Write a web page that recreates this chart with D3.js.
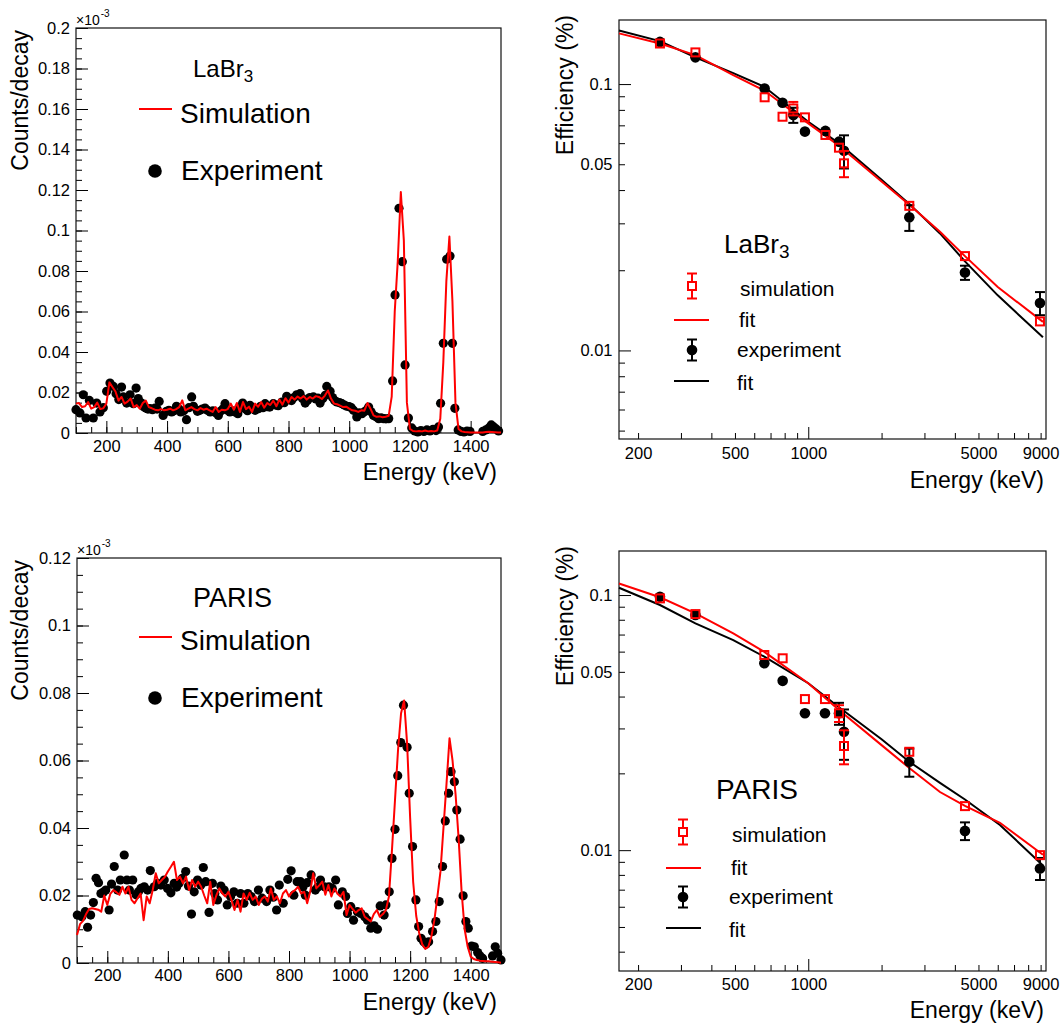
<!DOCTYPE html>
<html><head><meta charset="utf-8">
<script src="https://cdn.jsdelivr.net/npm/d3@7"></script>
<style>body{margin:0;background:#fff;} svg{display:block;}</style>
</head><body>
<script>
// ---------------- DATA ----------------
// Spectra: simulation histogram (bin centres from 100 keV, 10 keV step), counts/decay in units of 1e-3
const simBinStart = 100, simBinStep = 10;
const labrSim = [
 .0145,.0148,.0128,.0132,.0153,.0120,.0128,.0150,.0118,.0122,
 .0145,.0250,.0227,.0205,.0160,.0178,.0145,.0155,.0170,.0128,
 .0138,.0120,.0148,.0160,.0128,.0122,.0115,.0112,.0118,.0112,
 .0115,.0120,.0112,.0118,.0128,.0161,.0112,.0120,.0128,.0118,
 .0112,.0123,.0115,.0120,.0112,.0104,.0128,.0104,.0115,.0112,
 .0118,.0145,.0115,.0148,.0104,.0153,.0118,.0130,.0104,.0145,
 .0130,.0153,.0125,.0148,.0138,.0160,.0132,.0165,.0140,.0172,
 .0150,.0178,.0165,.0180,.0170,.0182,.0165,.0178,.0170,.0182,
 .0178,.0168,.0185,.0210,.0170,.0145,.0142,.0135,.0128,.0130,
 .0120,.0112,.0110,.0104,.0112,.0110,.0148,.0120,.0087,.0080,
 .0082,.0078,.0080,.0085,.0180,.0600,.0850,.1190,.0950,.0150,
 .0020,.0010,.0008,.0010,.0008,.0012,.0008,.0010,.0008,.0012,
 .0070,.0350,.0750,.0970,.0650,.0150,.0020,.0008,.0005,.0004,
 .0003,.0002,.0002,.0002,.0003,.0005,.0006,.0005,.0004,.0003,
 .0002];
const parisSim = [
 .0083,.0115,.0125,.0145,.0160,.0162,.0160,.0158,.0152,.0200,
 .0172,.0205,.0216,.0210,.0202,.0226,.0206,.0226,.0187,.0177,
 .0192,.0206,.0127,.0197,.0177,.0216,.0266,.0236,.0246,.0255,
 .0271,.0285,.0300,.0246,.0256,.0236,.0256,.0216,.0246,.0226,
 .0241,.0226,.0200,.0177,.0241,.0172,.0200,.0221,.0206,.0197,
 .0211,.0187,.0157,.0187,.0152,.0206,.0187,.0208,.0187,.0197,
 .0172,.0190,.0197,.0182,.0221,.0187,.0197,.0177,.0206,.0216,
 .0197,.0210,.0216,.0226,.0206,.0211,.0177,.0211,.0266,.0221,
 .0230,.0241,.0202,.0231,.0197,.0221,.0205,.0197,.0211,.0142,
 .0172,.0160,.0149,.0157,.0162,.0137,.0130,.0123,.0145,.0157,
 .0137,.0145,.0157,.0197,.0335,.0483,.0631,.0740,.0778,.0650,
 .0430,.0240,.0140,.0088,.0055,.0042,.0048,.0078,.0127,.0197,
 .0270,.0400,.0530,.0666,.0600,.0500,.0370,.0210,.0100,.0048,
 .0019,.0012,.0009,.0007,.0006,.0005,.0005,.0004,.0003,.0002,
 .0001];
// Experiment points: [energy keV, counts/decay (1e-3)]
const labrExp = [
[100,.0115],[113,.0099],[124,.0189],[133,.0074],[144,.0161],[157,.0074],[168,.0148],[179,.0104],[190,.0125],[201,.0206],
[212,.0247],[223,.0230],[232,.0194],[241,.0165],[250,.0227],[256,.0178],[267,.0148],[278,.0189],[289,.0145],[298,.0222],
[305,.0170],[316,.0148],[323,.0130],[330,.0123],[337,.0118],[344,.0120],[352,.0115],[360,.0123],[367,.0118],[374,.0156],
[387,.0087],[398,.0107],[406,.0112],[415,.0104],[423,.0110],[431,.0132],[438,.0120],[445,.0104],[455,.0110],[464,.0066],
[472,.0125],[481,.0178],[487,.0132],[500,.0107],[508,.0112],[516,.0118],[525,.0123],[533,.0112],[542,.0104],[551,.0110],
[560,.0100],[569,.0087],[578,.0110],[585,.0120],[591,.0145],[599,.0112],[607,.0104],[616,.0110],[624,.0104],[633,.0095],
[641,.0128],[649,.0148],[657,.0120],[665,.0110],[673,.0137],[681,.0125],[690,.0112],[701,.0120],[708,.0132],[716,.0125],
[723,.0145],[730,.0130],[738,.0128],[750,.0145],[758,.0138],[766,.0135],[778,.0153],[786,.0150],[794,.0181],[803,.0165],
[810,.0160],[818,.0175],[827,.0189],[838,.0194],[846,.0170],[855,.0148],[863,.0162],[870,.0175],[882,.0178],[890,.0168],
[897,.0172],[904,.0148],[913,.0170],[921,.0186],[926,.0230],[937,.0206],[945,.0175],[952,.0160],[959,.0153],[968,.0150],
[976,.0145],[984,.0138],[992,.0132],[1000,.0130],[1007,.0125],[1014,.0112],[1025,.0079],[1033,.0100],[1042,.0095],[1050,.0105],
[1057,.0112],[1064,.0128],[1072,.0105],[1080,.0087],[1088,.0080],[1097,.0071],[1105,.0075],[1113,.0071],[1121,.0070],[1130,.0071],
[1143,.0257],[1151,.0682],[1164,.1110],[1175,.0846],[1184,.0336],[1195,.0074],[1206,.0025],[1216,.0010],[1226,.0005],[1236,.0012],
[1246,.0008],[1256,.0015],[1266,.0010],[1276,.0018],[1286,.0012],[1294,.0030],[1301,.0147],[1310,.0443],[1321,.0858],[1332,.0874],
[1340,.0443],[1348,.0122],[1359,.0015],[1368,.0008],[1378,.0005],[1388,.0010],[1398,.0008],[1440,.0008],[1450,.0015],[1460,.0025],
[1468,.0040],[1476,.0030],[1484,.0020],[1492,.0010]];
const parisExp = [
[101,.0142],[116,.0137],[127,.0152],[135,.0106],[145,.0142],[154,.0179],[163,.0251],[171,.0238],[179,.0206],[187,.0210],
[195,.0216],[206,.0157],[214,.0234],[223,.0286],[234,.0216],[243,.0246],[256,.0320],[265,.0246],[273,.0216],[284,.0246],
[295,.0202],[303,.0211],[311,.0221],[322,.0226],[333,.0216],[342,.0274],[355,.0226],[366,.0236],[377,.0231],[388,.0246],
[399,.0221],[410,.0208],[421,.0236],[429,.0225],[437,.0236],[448,.0251],[459,.0271],[468,.0228],[478,.0145],[487,.0211],
[498,.0246],[509,.0231],[517,.0283],[525,.0241],[536,.0150],[547,.0236],[555,.0206],[564,.0187],[575,.0228],[586,.0216],
[596,.0172],[607,.0197],[618,.0211],[629,.0177],[640,.0206],[651,.0177],[664,.0206],[675,.0197],[686,.0182],[699,.0216],
[711,.0192],[726,.0182],[737,.0216],[748,.0195],[759,.0157],[768,.0231],[781,.0177],[796,.0248],[807,.0273],[816,.0201],
[827,.0241],[838,.0241],[846,.0225],[854,.0201],[860,.0238],[873,.0261],[887,.0216],[895,.0225],[904,.0246],[917,.0226],
[932,.0226],[943,.0221],[954,.0246],[963,.0172],[976,.0211],[987,.0197],[993,.0147],[1004,.0167],[1013,.0127],[1026,.0152],
[1037,.0147],[1050,.0137],[1059,.0127],[1070,.0103],[1081,.0110],[1092,.0100],[1101,.0169],[1114,.0142],[1120,.0172],[1131,.0211],
[1140,.0310],[1150,.0396],[1159,.0555],[1169,.0653],[1178,.0764],[1190,.0639],[1197,.0503],[1208,.0345],[1219,.0187],[1228,.0108],
[1236,.0073],[1245,.0063],[1253,.0056],[1261,.0063],[1274,.0093],[1285,.0123],[1296,.0182],[1307,.0286],[1316,.0421],[1327,.0503],
[1335,.0567],[1346,.0537],[1354,.0453],[1365,.0367],[1375,.0199],[1384,.0123],[1392,.0103],[1403,.0050],[1412,.0048],[1423,.0031],
[1431,.0021],[1439,.0014],[1472,.0021],[1481,.0048],[1489,.0029],[1500,.0009]];

// Efficiency (%) vs energy (keV)
const labrEffE      = [246, 344, 662, 784, 868, 969, 1176, 1337, 1402, 2600, 4401, 8945];
const labrExpEff    = [0.144, 0.126, 0.0963, 0.0851, 0.0765, 0.0663, 0.0667, 0.0608, 0.0562, 0.0316, 0.0196, 0.01506];
const labrExpErr    = [0.002, 0.002, 0.0015, 0.0012, 0.005, 0.001, 0.001, 0.001, 0.008, 0.0035, 0.0012, 0.0015];
const labrSimEff    = [0.142, 0.1315, 0.0892, 0.0754, 0.081, 0.075, 0.0644, 0.0577, 0.0504, 0.0349, 0.0226, 0.01285];
const labrSimErr    = [0.001, 0.001, 0.001, 0.001, 0.0047, 0.001, 0.001, 0.001, 0.0057, 0.0005, 0.0003, 0.0002];
const labrFitE      = [167, 246, 344, 492, 662, 1000, 1337, 2000, 2600, 3475, 4401, 6000, 9200];
const labrExpFit    = [0.159, 0.145, 0.126, 0.110, 0.0975, 0.0722, 0.0599, 0.0437, 0.0355, 0.0275, 0.0216, 0.0161, 0.0112];
const labrSimFit    = [0.155, 0.142, 0.1285, 0.108, 0.0944, 0.0712, 0.0587, 0.0431, 0.0352, 0.0279, 0.0226, 0.0173, 0.0128];

const parisEffE     = [246, 344, 660, 785, 969, 1171, 1337, 1402, 2600, 4401, 8945];
const parisExpEff   = [0.0985, 0.0835, 0.054, 0.0461, 0.0344, 0.0344, 0.0344, 0.0291, 0.0222, 0.0119, 0.00848];
const parisExpErr   = [0.001, 0.001, 0.001, 0.001, 0.001, 0.001, 0.0034, 0.0065, 0.0028, 0.00095, 0.00084];
const parisSimEff   = [0.097, 0.0842, 0.0582, 0.0565, 0.0391, 0.0391, 0.0344, 0.0256, 0.0243, 0.01488, 0.00956];
const parisSimErr   = [0.001, 0.001, 0.001, 0.001, 0.001, 0.001, 0.0026, 0.0039, 0.0005, 0.0003, 0.0002];
const parisFitE     = [167, 246, 344, 492, 660, 1000, 1337, 2000, 2600, 3475, 4401, 6127, 9200];
const parisExpFit   = [0.1068, 0.0914, 0.0774, 0.0666, 0.0573, 0.0451, 0.0363, 0.0272, 0.0222, 0.01835, 0.0158, 0.01256, 0.0087];
const parisSimFit   = [0.111, 0.098, 0.0848, 0.0708, 0.0599, 0.0451, 0.0354, 0.0258, 0.021, 0.0169, 0.0149, 0.0128, 0.0096];

// Tick values
const spectrumMajorX = [200, 400, 600, 800, 1000, 1200, 1400];
const effLabelX = [200, 500, 1000, 5000, 9000];
const effMajorX = [1000];
const effMinorX = [200,300,400,500,600,700,800,900,2000,3000,4000,5000,6000,7000,8000,9000];
const effLabelY = [0.01, 0.05, 0.1];
const effMajorY = [0.01, 0.1];
const effMinorY = [0.004,0.005,0.006,0.007,0.008,0.009,0.02,0.03,0.04,0.05,0.06,0.07,0.08,0.09];

// ---------------- DRAWING ----------------
const FONT = "'Liberation Sans', Arial, Helvetica, sans-serif";
const RED = '#ff0000';
const TICKFONT = 16.5;
const svg = d3.select('body').append('svg').attr('width', 1062).attr('height', 1026);
svg.append('rect').attr('width', 1062).attr('height', 1026).attr('fill', '#fff');

function fixAxis(sel, size) {
  sel.attr('font-family', FONT).attr('font-size', size);
  sel.select('.domain').remove();
  sel.selectAll('.tick line').attr('stroke', '#000').attr('stroke-width', 1);
  sel.selectAll('.tick text').attr('fill', '#000');
}

function frame(g, l, t, r, b) {
  g.append('rect').attr('x', l).attr('y', t).attr('width', r - l).attr('height', b - t)
    .attr('fill', 'none').attr('stroke', '#111').attr('stroke-width', 1.2);
}

function txt(g, x, y, s, size, anchor) {
  return g.append('text').attr('x', x).attr('y', y).attr('font-family', FONT)
    .attr('font-size', size).attr('text-anchor', anchor || 'start').attr('fill', '#000').text(s);
}

function spectrumPanel(p) {
  const g = svg.append('g');
  const x = d3.scaleLinear().domain([100, 1500]).range([p.l, p.r]);
  const y = d3.scaleLinear().domain([0, p.ymax]).range([p.b, p.t]);
  const nMaj = Math.round(p.ymax / 0.02), nMin = Math.round(p.ymax / 0.005);
  const yMaj = d3.range(nMaj + 1).map(i => +(i * 0.02).toFixed(3));
  const yMin = d3.range(nMin + 1).map(i => +(i * 0.005).toFixed(4));
  const xMin = d3.range(100, 1501, 50);

  g.append('g').attr('transform', `translate(0,${p.b})`)
    .call(d3.axisBottom(x).tickValues(xMin).tickSize(-6).tickFormat(''))
    .call(s => fixAxis(s, TICKFONT));
  g.append('g').attr('transform', `translate(0,${p.b})`)
    .call(d3.axisBottom(x).tickValues(spectrumMajorX).tickSize(-12).tickPadding(p.xPad).tickFormat(d3.format('d')))
    .call(s => fixAxis(s, TICKFONT));
  g.append('g').attr('transform', `translate(${p.l},0)`)
    .call(d3.axisLeft(y).tickValues(yMin).tickSize(-6).tickFormat(''))
    .call(s => fixAxis(s, TICKFONT));
  g.append('g').attr('transform', `translate(${p.l},0)`)
    .call(d3.axisLeft(y).tickValues(yMaj).tickSize(-12).tickPadding(6).tickFormat(d => d === 0 ? '0' : String(d)))
    .call(s => fixAxis(s, TICKFONT));
  frame(g, p.l, p.t, p.r, p.b);

  // experiment points
  g.append('g').selectAll('circle').data(p.exp).join('circle')
    .attr('cx', d => x(d[0])).attr('cy', d => y(d[1])).attr('r', 4.6).attr('fill', '#000');
  // simulation line
  const line = d3.line().x((v, i) => x(simBinStart + i * simBinStep)).y(v => y(v));
  g.append('path').datum(p.sim).attr('d', line).attr('fill', 'none')
    .attr('stroke', RED).attr('stroke-width', 2).attr('stroke-linejoin', 'round');

  // titles
  txt(g, 0, 0, 'Counts/decay', 23, 'end').attr('transform', `translate(28,${p.t + 2}) rotate(-90)`);
  txt(g, p.r - 4, p.xTitleY, 'Energy (keV)', 23, 'end');
  const m = txt(g, p.l, p.t - 3, '\u00d710', 14);
  m.append('tspan').attr('font-size', 10).attr('dy', -8).attr('dx', 1).text('-3');

  // legend
  const lg = p.leg;
  const t1 = txt(g, 193, lg.title, p.name, p.nameSize);
  if (p.sub) t1.append('tspan').attr('font-size', 17).attr('dy', 5).text(p.sub);
  g.append('line').attr('x1', 139).attr('x2', 172).attr('y1', lg.simY).attr('y2', lg.simY)
    .attr('stroke', RED).attr('stroke-width', 2);
  txt(g, 180, lg.simText, 'Simulation', 28);
  g.append('circle').attr('cx', 155).attr('cy', lg.expY).attr('r', 6.8).attr('fill', '#000');
  txt(g, 181, lg.expText, 'Experiment', 28);
}

function errBar(g, cx, cyTop, cyCenter, cyBot, r, color) {
  if (cyCenter - cyTop > r + 0.8) {
    g.append('line').attr('x1', cx).attr('x2', cx).attr('y1', cyTop).attr('y2', cyCenter - r).attr('stroke', color).attr('stroke-width', 2);
    g.append('line').attr('x1', cx - 5).attr('x2', cx + 5).attr('y1', cyTop).attr('y2', cyTop).attr('stroke', color).attr('stroke-width', 2);
  }
  if (cyBot - cyCenter > r + 0.8) {
    g.append('line').attr('x1', cx).attr('x2', cx).attr('y1', cyCenter + r).attr('y2', cyBot).attr('stroke', color).attr('stroke-width', 2);
    g.append('line').attr('x1', cx - 5).attr('x2', cx + 5).attr('y1', cyBot).attr('y2', cyBot).attr('stroke', color).attr('stroke-width', 2);
  }
}

function effPanel(p) {
  const g = svg.append('g');
  const x = d3.scaleLog().domain([167, 9470]).range([p.l, p.r]);
  const y = d3.scaleLog().domain(p.yDomain).range([p.b, p.t]);
  const inY = v => v >= p.yDomain[0] && v <= p.yDomain[1];

  g.append('g').attr('transform', `translate(0,${p.b})`)
    .call(d3.axisBottom(x).tickValues(effMinorX).tickSize(-6).tickFormat(''))
    .call(s => fixAxis(s, TICKFONT));
  g.append('g').attr('transform', `translate(0,${p.b})`)
    .call(d3.axisBottom(x).tickValues(effMajorX).tickSize(-12).tickFormat(''))
    .call(s => fixAxis(s, TICKFONT));
  g.append('g').attr('transform', `translate(0,${p.b})`)
    .call(d3.axisBottom(x).tickValues(effLabelX).tickSize(0).tickPadding(p.xPad).tickFormat(d3.format('d')))
    .call(s => fixAxis(s, TICKFONT));
  g.append('g').attr('transform', `translate(${p.l},0)`)
    .call(d3.axisLeft(y).tickValues(effMinorY.filter(inY)).tickSize(-6).tickFormat(''))
    .call(s => fixAxis(s, TICKFONT));
  g.append('g').attr('transform', `translate(${p.l},0)`)
    .call(d3.axisLeft(y).tickValues(effMajorY).tickSize(-12).tickFormat(''))
    .call(s => fixAxis(s, TICKFONT));
  g.append('g').attr('transform', `translate(${p.l},0)`)
    .call(d3.axisLeft(y).tickValues(effLabelY).tickSize(0).tickPadding(6.5).tickFormat(d => String(d)))
    .call(s => fixAxis(s, TICKFONT));
  frame(g, p.l, p.t, p.r, p.b);

  const line = d3.line().x(d => x(d[0])).y(d => y(d[1]));
  g.append('path').datum(d3.zip(p.fitE, p.expFit)).attr('d', line).attr('fill', 'none')
    .attr('stroke', '#000').attr('stroke-width', 2);
  g.append('path').datum(d3.zip(p.fitE, p.simFit)).attr('d', line).attr('fill', 'none')
    .attr('stroke', RED).attr('stroke-width', 2);

  const expPts = p.E.map((e, i) => ({ e, v: p.expEff[i], err: p.expErr[i] }));
  const simPts = p.E.map((e, i) => ({ e, v: p.simEff[i], err: p.simErr[i] }));
  const ge = g.append('g');
  expPts.forEach(d => errBar(ge, x(d.e), y(d.v + d.err), y(d.v), y(d.v - d.err), 5, '#000'));
  ge.selectAll('circle').data(expPts).join('circle')
    .attr('cx', d => x(d.e)).attr('cy', d => y(d.v)).attr('r', 5.3).attr('fill', '#000');
  const gs = g.append('g');
  simPts.forEach(d => errBar(gs, x(d.e), y(d.v + d.err), y(d.v), y(d.v - d.err), 5, RED));
  gs.selectAll('rect').data(simPts).join('rect')
    .attr('x', d => x(d.e) - 4).attr('y', d => y(d.v) - 4).attr('width', 8).attr('height', 8)
    .attr('fill', 'none').attr('stroke', RED).attr('stroke-width', 2);

  // titles
  txt(g, 0, 0, 'Efficiency (%)', 23, 'end').attr('transform', `translate(573,${p.t - 5}) rotate(-90)`);
  txt(g, p.r - 2, p.xTitleY, 'Energy (keV)', 23, 'end');

  // legend
  const L = p.leg;
  const t1 = txt(g, L.titleX, L.titleY, p.name, p.nameSize);
  if (p.sub) t1.append('tspan').attr('font-size', 19).attr('dy', 5).text(p.sub);
  errBar(g, L.mx, L.simY - 12.5, L.simY, L.simY + 12.5, 5, RED);
  g.append('rect').attr('x', L.mx - 4).attr('y', L.simY - 4).attr('width', 8).attr('height', 8)
    .attr('fill', 'none').attr('stroke', RED).attr('stroke-width', 2);
  txt(g, L.tx + 3, L.simY + 9.5, 'simulation', 21);
  g.append('line').attr('x1', L.lx1).attr('x2', L.lx2).attr('y1', L.fit1Y).attr('y2', L.fit1Y)
    .attr('stroke', RED).attr('stroke-width', 2);
  txt(g, L.tx + 2, L.fit1Y + 7, 'fit', 21);
  errBar(g, L.mx, L.expY - 10.5, L.expY, L.expY + 10.5, 5, '#000');
  g.append('circle').attr('cx', L.mx).attr('cy', L.expY).attr('r', 5.3).attr('fill', '#000');
  txt(g, L.tx, L.expY + 7, 'experiment', 21);
  g.append('line').attr('x1', L.lx1).attr('x2', L.lx2).attr('y1', L.fit2Y).attr('y2', L.fit2Y)
    .attr('stroke', '#000').attr('stroke-width', 2);
  txt(g, L.tx, L.fit2Y + 9, 'fit', 21);
}

spectrumPanel({
  l: 76, r: 501, t: 28, b: 433, ymax: 0.2, xPad: 7.3, xTitleY: 480,
  sim: labrSim, exp: labrExp, name: 'LaBr', sub: '3', nameSize: 24,
  leg: { title: 77, simY: 109, simText: 123, expY: 171, expText: 180 }
});
spectrumPanel({
  l: 77, r: 501, t: 558, b: 963, ymax: 0.12, xPad: 6, xTitleY: 1010,
  sim: parisSim, exp: parisExp, name: 'PARIS', sub: null, nameSize: 27,
  leg: { title: 607, simY: 637, simText: 650, expY: 698, expText: 707 }
});
effPanel({
  l: 619, r: 1046, t: 20, b: 439, yDomain: [0.00465, 0.174], xPad: 7.8, xTitleY: 488,
  E: labrEffE, expEff: labrExpEff, expErr: labrExpErr, simEff: labrSimEff, simErr: labrSimErr,
  fitE: labrFitE, expFit: labrExpFit, simFit: labrSimFit, name: 'LaBr', sub: '3', nameSize: 26,
  leg: { titleX: 724, titleY: 253, mx: 692, simY: 286, fit1Y: 320, expY: 350, fit2Y: 381, lx1: 674, lx2: 709, tx: 737 }
});
effPanel({
  l: 619, r: 1046, t: 551, b: 971, yDomain: [0.00336, 0.1488], xPad: 7.2, xTitleY: 1018,
  E: parisEffE, expEff: parisExpEff, expErr: parisExpErr, simEff: parisSimEff, simErr: parisSimErr,
  fitE: parisFitE, expFit: parisExpFit, simFit: parisSimFit, name: 'PARIS', sub: null, nameSize: 28,
  leg: { titleX: 716, titleY: 799, mx: 683, simY: 832, fit1Y: 868, expY: 897, fit2Y: 928, lx1: 666, lx2: 701, tx: 729 }
});
</script>
</body></html>
